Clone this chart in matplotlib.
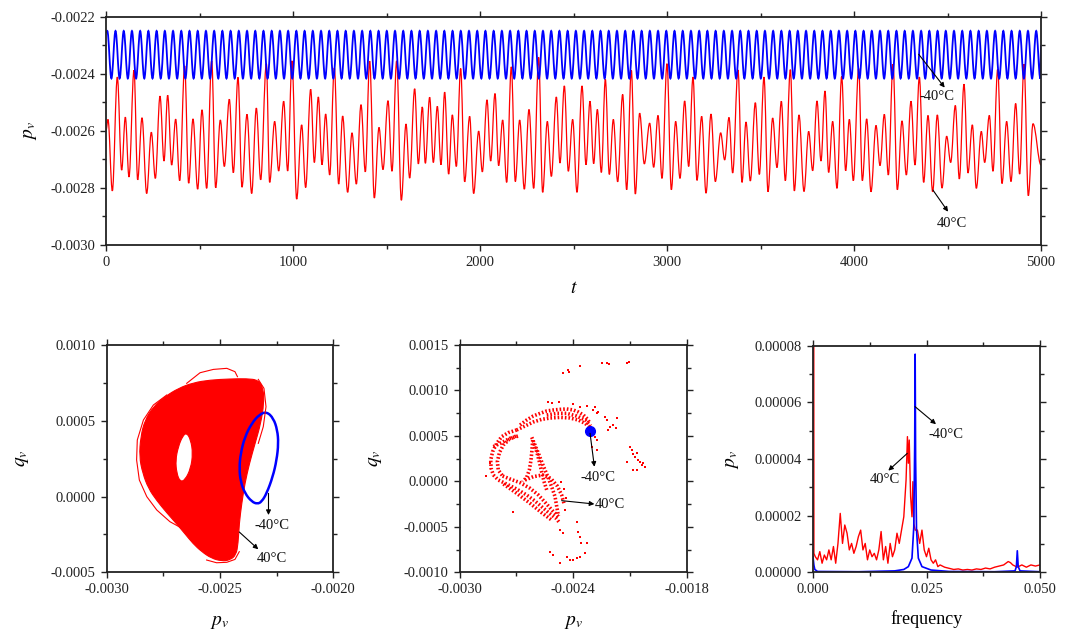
import numpy as np
import matplotlib
matplotlib.use("Agg")
import matplotlib.pyplot as plt
from matplotlib.path import Path
from matplotlib.patches import PathPatch
from matplotlib.ticker import MultipleLocator, FormatStrFormatter

plt.rcParams["font.family"] = ["Liberation Serif", "DejaVu Serif"]
plt.rcParams["mathtext.fontset"] = "stix"

# ---------------- time history of p_v ----------------
# successive turning points (time, value) of the 40°C response
red_ext_t = [0.0, 10.7, 33.9, 60.6, 83.8, 103.4, 123.0, 149.7, 169.4, 192.5, 217.5, 242.4, 263.8,
             288.8, 310.2, 329.8, 351.2, 372.6, 394.0, 420.7, 442.1, 465.2, 490.2, 513.4, 538.3,
             565.1, 586.5, 611.4, 632.8, 659.5, 680.9, 705.9, 727.3, 754.0, 779.0, 803.9, 827.1,
             857.4, 875.2, 902.0, 923.4, 950.1, 971.5, 994.7, 1019.6, 1046.3, 1067.7, 1094.5,
             1114.1, 1135.5, 1155.1, 1174.7, 1196.1, 1221.0, 1244.2, 1265.6, 1292.3, 1315.5,
             1338.7, 1363.6, 1386.8, 1410.0, 1434.9, 1459.9, 1481.3, 1508.0, 1529.4, 1554.4,
             1579.3, 1604.3, 1623.9, 1650.6, 1670.3, 1691.6, 1707.7, 1730.8, 1750.4, 1771.8,
             1791.4, 1811.0, 1832.4, 1852.0, 1873.4, 1896.6, 1918.0, 1944.7, 1966.1, 1992.9,
             2012.5, 2037.4, 2057.1, 2080.2, 2099.8, 2121.2, 2142.6, 2167.5, 2188.9, 2212.1,
             2237.1, 2262.0, 2287.0, 2313.7, 2335.1, 2360.1, 2381.5, 2408.2, 2427.8, 2451.0,
             2472.4, 2495.5, 2518.7, 2545.5, 2566.8, 2588.2, 2607.9, 2627.5, 2648.9, 2670.3,
             2691.6, 2713.0, 2736.2, 2762.9, 2784.3, 2809.3, 2830.7, 2853.8, 2878.8, 2907.3,
             2928.7, 2951.9, 2973.3, 3000.0, 3023.2, 3046.4, 3069.5, 3094.5, 3115.9, 3139.0,
             3160.4, 3185.4, 3208.6, 3235.3, 3258.5, 3287.0, 3308.4, 3331.6, 3351.2, 3379.7,
             3401.1, 3422.5, 3445.6, 3472.4, 3493.8, 3518.7, 3540.1, 3565.1, 3588.2, 3611.4,
             3632.8, 3659.6, 3681.0, 3705.9, 3732.6, 3757.6, 3779.0, 3802.1, 3823.5, 3844.9,
             3864.5, 3885.9, 3909.1, 3934.1, 3955.4, 3975.1, 3996.4, 4025.0, 4044.6, 4067.8,
             4090.9, 4117.7, 4139.1, 4162.2, 4183.6, 4208.6, 4231.8, 4256.7, 4279.9, 4304.8,
             4326.2, 4349.4, 4372.6, 4395.7, 4420.7, 4445.6, 4470.6, 4495.6, 4517.0, 4541.9,
             4563.3, 4588.2, 4609.6, 4632.8, 4654.2, 4680.9, 4698.8, 4723.7, 4743.3, 4768.3,
             4791.4, 4816.4, 4839.6, 4864.5, 4885.9, 4909.1, 4932.2, 4957.2, 5000.0]
red_ext_v = [-25.99e-4, -25.60e-4, -28.11e-4, -24.11e-4, -27.38e-4, -25.52e-4, -27.62e-4, -23.87e-4,
             -27.72e-4, -25.54e-4, -28.20e-4, -26.05e-4, -27.67e-4, -24.78e-4, -27.06e-4, -24.75e-4,
             -27.20e-4, -25.59e-4, -27.75e-4, -23.72e-4, -27.84e-4, -25.58e-4, -28.05e-4, -25.26e-4,
             -28.02e-4, -23.54e-4, -28.00e-4, -25.62e-4, -27.25e-4, -24.89e-4, -27.47e-4, -24.12e-4,
             -27.98e-4, -25.42e-4, -28.20e-4, -25.20e-4, -27.72e-4, -23.64e-4, -27.81e-4, -25.67e-4,
             -27.41e-4, -24.96e-4, -27.41e-4, -23.54e-4, -28.40e-4, -25.79e-4, -27.99e-4, -24.54e-4,
             -27.11e-4, -24.81e-4, -27.19e-4, -25.41e-4, -27.55e-4, -23.79e-4, -27.87e-4, -25.48e-4,
             -28.16e-4, -26.07e-4, -27.87e-4, -25.08e-4, -27.44e-4, -23.55e-4, -28.36e-4, -25.88e-4,
             -27.36e-4, -24.94e-4, -27.42e-4, -23.54e-4, -28.44e-4, -25.76e-4, -27.66e-4, -24.52e-4,
             -27.16e-4, -25.16e-4, -27.14e-4, -24.82e-4, -27.11e-4, -25.14e-4, -27.19e-4, -24.64e-4,
             -27.52e-4, -25.44e-4, -27.25e-4, -23.81e-4, -27.79e-4, -25.49e-4, -28.20e-4, -26.01e-4,
             -27.44e-4, -24.91e-4, -27.06e-4, -24.69e-4, -27.22e-4, -25.62e-4, -27.81e-4, -23.75e-4,
             -27.78e-4, -25.62e-4, -28.05e-4, -25.25e-4, -28.02e-4, -23.42e-4, -28.16e-4, -25.67e-4,
             -27.60e-4, -24.81e-4, -27.13e-4, -24.42e-4, -27.42e-4, -25.60e-4, -28.16e-4, -24.42e-4,
             -27.19e-4, -24.96e-4, -27.15e-4, -25.25e-4, -27.46e-4, -24.19e-4, -27.53e-4, -25.60e-4,
             -27.79e-4, -24.72e-4, -28.07e-4, -23.87e-4, -28.22e-4, -25.38e-4, -27.16e-4, -25.73e-4,
             -27.28e-4, -25.46e-4, -27.67e-4, -23.64e-4, -28.07e-4, -25.67e-4, -27.67e-4, -24.95e-4,
             -27.25e-4, -24.11e-4, -27.74e-4, -25.49e-4, -28.19e-4, -25.41e-4, -27.78e-4, -26.07e-4,
             -27.02e-4, -25.53e-4, -27.48e-4, -23.86e-4, -27.81e-4, -25.69e-4, -27.76e-4, -25.01e-4,
             -27.53e-4, -24.11e-4, -28.14e-4, -25.55e-4, -27.29e-4, -24.96e-4, -27.75e-4, -23.85e-4,
             -28.11e-4, -25.44e-4, -28.13e-4, -26.02e-4, -27.40e-4, -24.95e-4, -27.06e-4, -24.60e-4,
             -27.46e-4, -25.67e-4, -28.02e-4, -24.09e-4, -27.40e-4, -25.60e-4, -27.75e-4, -23.81e-4,
             -27.75e-4, -25.58e-4, -28.14e-4, -25.81e-4, -27.22e-4, -25.42e-4, -27.55e-4, -23.66e-4,
             -28.07e-4, -25.65e-4, -27.55e-4, -24.96e-4, -27.20e-4, -24.11e-4, -27.81e-4, -25.46e-4,
             -28.14e-4, -25.44e-4, -28.01e-4, -26.19e-4, -27.11e-4, -25.11e-4, -27.69e-4, -24.36e-4,
             -27.48e-4, -25.79e-4, -28.02e-4, -26.02e-4, -27.11e-4, -25.46e-4, -27.42e-4, -23.84e-4,
             -27.85e-4, -25.67e-4, -27.78e-4, -25.04e-4, -27.52e-4, -23.66e-4, -28.28e-4, -25.75e-4,
             -27.20e-4]

# -40°C response: a steady periodic oscillation
blue_start_v = -22.55e-4
blue_high = -22.49e-4
blue_low = -24.16e-4
blue_first_peak = 6.9
blue_period = 43.96

# ---------------- phase portrait (p_v, q_v) ----------------
blob_outer_p = [-0.002856, -0.002850, -0.002831, -0.002794, -0.002743, -0.002684, -0.002618,
                -0.002544, -0.002456, -0.002382, -0.002331, -0.002309, -0.002306, -0.002320,
                -0.002345, -0.002370, -0.002390, -0.002404, -0.002415, -0.002420, -0.002429,
                -0.002456, -0.002492, -0.002537, -0.002581, -0.002620, -0.002654, -0.002691,
                -0.002735, -0.002779, -0.002816, -0.002841]
blob_outer_q = [0.000263, 0.000395, 0.000505, 0.000593, 0.000659, 0.000714, 0.000751,
                0.000769, 0.000776, 0.000778, 0.000769, 0.000714, 0.000615, 0.000483,
                0.000351, 0.000219, 0.000087, -0.000045, -0.000177, -0.000309, -0.000386,
                -0.000419, -0.000426, -0.000408, -0.000364, -0.000309, -0.000247, -0.000181,
                -0.000107, -0.000027, 0.000054, 0.000153]
blob_hole_p = [-0.002647, -0.002629, -0.002620, -0.002629, -0.002654, -0.002676, -0.002691,
               -0.002696, -0.002684, -0.002665]
blob_hole_q = [0.000421, 0.000373, 0.000285, 0.000186, 0.000109, 0.000098, 0.000153,
               0.000241, 0.000329, 0.000399]
# outlying orbit strands of the 40°C attractor
strand_top_p = [-0.002647, -0.002588, -0.002529, -0.002470, -0.002434, -0.002423]
strand_top_q = [0.000747, 0.000817, 0.000839, 0.000846, 0.000824, 0.000791]
strand_left_p = [-0.002735, -0.002794, -0.002838, -0.002865, -0.002868, -0.002856, -0.002823,
                 -0.002779, -0.002721, -0.002676, -0.002640]
strand_left_q = [0.000670, 0.000604, 0.000505, 0.000373, 0.000241, 0.000109, -0.000001,
                 -0.000089, -0.000166, -0.000203, -0.000217]
strand_bottom_p = [-0.002559, -0.002515, -0.002470, -0.002434, -0.002415]
strand_bottom_q = [-0.000419, -0.000437, -0.000434, -0.000415, -0.000364]
strand_right_p = [-0.002331, -0.002306, -0.002297, -0.002309, -0.002331]
strand_right_q = [0.000773, 0.000714, 0.000593, 0.000461, 0.000351]
# -40°C limit cycle
cycle_p = [-0.002294, -0.002264, -0.002247, -0.002242, -0.002250, -0.002267, -0.002294,
           -0.002316, -0.002335, -0.002360, -0.002390, -0.002409, -0.002415, -0.002409,
           -0.002390, -0.002360, -0.002326]
cycle_q = [0.000560, 0.000516, 0.000439, 0.000351, 0.000241, 0.000131, 0.000021,
           -0.000034, -0.000049, -0.000034, 0.000021, 0.000098, 0.000186, 0.000285,
           0.000395, 0.000483, 0.000542]

# ---------------- Poincaré section ----------------
# dense filaments of section points (p_v list, q_v list)
poin_bands = [
    ([-0.002681, -0.002646, -0.002611, -0.002575, -0.002540, -0.002505, -0.002470, -0.002434,
      -0.002399, -0.002373, -0.002346, -0.002325, -0.002311],
     [0.000620, 0.000675, 0.000719, 0.000748, 0.000774, 0.000785, 0.000792, 0.000796,
      0.000785, 0.000763, 0.000730, 0.000686, 0.000638]),
    ([-0.002699, -0.002655, -0.002611, -0.002567, -0.002522, -0.002470, -0.002417, -0.002373,
      -0.002337, -0.002311],
     [0.000565, 0.000609, 0.000653, 0.000682, 0.000697, 0.000704, 0.000697, 0.000675,
      0.000638, 0.000591]),
    ([-0.002540, -0.002487, -0.002434, -0.002382, -0.002337, -0.002308],
     [0.000730, 0.000748, 0.000748, 0.000719, 0.000675, 0.000609]),
    ([-0.002699, -0.002743, -0.002778, -0.002804, -0.002826, -0.002836, -0.002834, -0.002822],
     [0.000565, 0.000536, 0.000492, 0.000419, 0.000327, 0.000235, 0.000144, 0.000070]),
    ([-0.002702, -0.002737, -0.002769, -0.002790, -0.002801, -0.002796, -0.002773],
     [0.000499, 0.000463, 0.000400, 0.000316, 0.000217, 0.000125, 0.000059]),
    ([-0.002822, -0.002796, -0.002752, -0.002699, -0.002646, -0.002602, -0.002561, -0.002526,
      -0.002491, -0.002470],
     [0.000070, 0.000015, -0.000029, -0.000084, -0.000150, -0.000216, -0.000289, -0.000351,
      -0.000406, -0.000461]),
    ([-0.002773, -0.002734, -0.002681, -0.002628, -0.002584, -0.002544, -0.002508, -0.002478],
     [0.000059, 0.000026, -0.000014, -0.000076, -0.000150, -0.000241, -0.000326, -0.000388]),
    ([-0.002769, -0.002699, -0.002628, -0.002567, -0.002514],
     [-0.000029, -0.000131, -0.000241, -0.000344, -0.000425]),
    ([-0.002619, -0.002602, -0.002584, -0.002567, -0.002549, -0.002531, -0.002514, -0.002496,
      -0.002487, -0.002478],
     [0.000485, 0.000400, 0.000309, 0.000217, 0.000125, 0.000034, -0.000058, -0.000168,
      -0.000278, -0.000381]),
    ([-0.002611, -0.002593, -0.002579, -0.002567, -0.002554, -0.002540],
     [0.000419, 0.000327, 0.000217, 0.000107, -0.000003, -0.000095]),
    ([-0.002614, -0.002618, -0.002623, -0.002632, -0.002646, -0.002667],
     [0.000455, 0.000345, 0.000235, 0.000125, 0.000045, -0.000003]),
    ([-0.002655, -0.002611, -0.002561, -0.002519, -0.002484, -0.002461, -0.002449],
     [0.000015, 0.000052, 0.000070, 0.000034, -0.000051, -0.000150, -0.000241]),
    ([-0.002822, -0.002778, -0.002734, -0.002690],
     [0.000382, 0.000426, 0.000474, 0.000499]),
]
# isolated section points
poin_p = [-0.002452, -0.002426, -0.002420, -0.002364, -0.002249, -0.002223, -0.002209, -0.002117,
          -0.002103, -0.002293, -0.002276, -0.002285, -0.002299, -0.002276, -0.002223, -0.002205,
          -0.002188, -0.002174, -0.002167, -0.002214, -0.002100, -0.002091, -0.002086, -0.002073,
          -0.002064, -0.002056, -0.002047, -0.002038, -0.002029, -0.002020, -0.002082, -0.002064,
          -0.002117, -0.002470, -0.002452, -0.002382, -0.002373, -0.002364, -0.002360, -0.002329,
          -0.002522, -0.002505, -0.002470, -0.002434, -0.002417, -0.002399, -0.002382, -0.002364,
          -0.002337, -0.002861, -0.002840, -0.002716, -0.002531, -0.002514, -0.002473, -0.002399,
          -0.002364, -0.002329, -0.002267, -0.002232, -0.002285, -0.002273, -0.002464, -0.002449,
          -0.002438, -0.002443]
poin_q = [0.001188, 0.001225, 0.001203, 0.001273, 0.001298, 0.001298, 0.001287, 0.001306,
          0.001309, 0.000785, 0.000748, 0.000814, 0.000382, 0.000345, 0.000675, 0.000602,
          0.000620, 0.000584, 0.000693, 0.000565, 0.000382, 0.000345, 0.000301, 0.000272,
          0.000309, 0.000235, 0.000217, 0.000180, 0.000199, 0.000162, 0.000125, 0.000125,
          0.000217, -0.000535, -0.000571, -0.000443, -0.000553, -0.000608, -0.000681, -0.000681,
          -0.000773, -0.000810, -0.000901, -0.000828, -0.000865, -0.000865, -0.000846, -0.000828,
          -0.000791, 0.000059, 0.000199, -0.000333, 0.000877, 0.000858, 0.000869, 0.000851,
          0.000814, 0.000829, 0.000767, 0.000704, 0.000492, 0.000455, -0.000003, -0.000087,
          -0.000186, -0.000315]
cold_point = (-0.002311, 0.000554)

# ---------------- amplitude spectrum ----------------
spec_red_f = [0.0, 0.0002, 0.0005, 0.0010, 0.0015, 0.0020, 0.0025, 0.0030, 0.0035, 0.0040, 0.0045,
              0.0050, 0.0055, 0.0060, 0.0065, 0.0070, 0.0075, 0.0080, 0.0085, 0.0090, 0.0095,
              0.0100, 0.0105, 0.0110, 0.0115, 0.0120, 0.0125, 0.0130, 0.0135, 0.0140, 0.0145,
              0.0150, 0.0155, 0.0160, 0.0165, 0.0170, 0.0175, 0.0180, 0.0185, 0.0190, 0.0195,
              0.0200, 0.0205, 0.0208, 0.0210, 0.0212, 0.0215, 0.0218, 0.0220, 0.0222, 0.0225,
              0.0230, 0.0235, 0.0240, 0.0245, 0.0250, 0.0255, 0.0260, 0.0265, 0.0270, 0.0275,
              0.0280, 0.0290, 0.0300, 0.0310, 0.0320, 0.0330, 0.0340, 0.0350, 0.0360, 0.0370,
              0.0380, 0.0390, 0.0400, 0.0410, 0.0420, 0.0430, 0.0435, 0.0440, 0.0450, 0.0460,
              0.0470, 0.0480, 0.0490, 0.0500]
spec_red_a = [60e-5, 0.67e-5, 0.55e-5, 0.44e-5, 0.73e-5, 0.32e-5, 0.61e-5, 0.44e-5, 0.79e-5, 0.44e-5,
              0.91e-5, 0.32e-5, 1.02e-5, 2.08e-5, 1.02e-5, 1.67e-5, 1.38e-5, 0.79e-5, 1.02e-5,
              0.67e-5, 0.91e-5, 1.26e-5, 1.49e-5, 0.79e-5, 1.02e-5, 0.44e-5, 0.79e-5, 0.55e-5,
              0.67e-5, 0.44e-5, 0.79e-5, 1.44e-5, 0.44e-5, 0.91e-5, 0.32e-5, 1.02e-5, 0.55e-5,
              0.79e-5, 1.38e-5, 1.02e-5, 1.49e-5, 1.96e-5, 3.26e-5, 4.79e-5, 3.85e-5, 4.67e-5,
              2.67e-5, 1.96e-5, 3.20e-5, 1.73e-5, 1.49e-5, 1.49e-5, 1.02e-5, 1.49e-5, 0.79e-5,
              0.55e-5, 0.85e-5, 0.44e-5, 0.32e-5, 0.44e-5, 0.20e-5, 0.26e-5, 0.18e-5, 0.14e-5,
              0.10e-5, 0.12e-5, 0.08e-5, 0.10e-5, 0.08e-5, 0.12e-5, 0.10e-5, 0.15e-5, 0.12e-5,
              0.18e-5, 0.22e-5, 0.26e-5, 0.38e-5, 0.34e-5, 0.26e-5, 0.18e-5, 0.26e-5, 0.18e-5,
              0.26e-5, 0.22e-5, 0.26e-5]
spec_blue_f = [0.0, 0.0002, 0.0004, 0.0010, 0.0100, 0.0180, 0.0200, 0.0210, 0.0218, 0.0222,
               0.0224, 0.0225, 0.0226, 0.0228, 0.0232, 0.0240, 0.0260, 0.0300, 0.0400, 0.0445,
               0.0448, 0.0450, 0.0452, 0.0456, 0.0500]
spec_blue_a = [0.55e-5, 0.25e-5, 0.10e-5, 0.03e-5, 0.02e-5, 0.05e-5, 0.10e-5, 0.20e-5, 0.50e-5,
               1.60e-5, 4.50e-5, 7.70e-5, 4.00e-5, 1.50e-5, 0.50e-5, 0.20e-5, 0.08e-5, 0.03e-5,
               0.02e-5, 0.05e-5, 0.20e-5, 0.76e-5, 0.20e-5, 0.05e-5, 0.02e-5]

RED = "#ff0000"
BLUE = "#0000ff"
W, H = 1068, 633


def smooth_trace(t, v, k=0.3642):
    """Cubic path with flat tangents at each turning point."""
    verts = [(t[0], v[0])]
    codes = [Path.MOVETO]
    for i in range(len(t) - 1):
        dt = t[i + 1] - t[i]
        verts += [(t[i] + k * dt, v[i]), (t[i + 1] - k * dt, v[i + 1]), (t[i + 1], v[i + 1])]
        codes += [Path.CURVE4] * 3
    return Path(verts, codes)


def closed_curve(p, q):
    """Closed quadratic B-spline through the midpoints of a polygon."""
    pts = np.column_stack([p, q])
    n = len(pts)
    mids = (pts + np.roll(pts, -1, axis=0)) / 2
    verts = [tuple(mids[-1])]
    codes = [Path.MOVETO]
    for i in range(n):
        verts += [tuple(pts[i]), tuple(mids[i])]
        codes += [Path.CURVE3, Path.CURVE3]
    return Path(verts, codes)


def add_axes_px(fig, x0, y0, x1, y1):
    return fig.add_axes([x0 / W, 1 - y1 / H, (x1 - x0) / W, (y1 - y0) / H])


def style(ax, xmaj, xmin, ymaj, ymin, xfmt, yfmt):
    ax.xaxis.set_major_locator(MultipleLocator(xmaj))
    ax.xaxis.set_minor_locator(MultipleLocator(xmin))
    ax.yaxis.set_major_locator(MultipleLocator(ymaj))
    ax.yaxis.set_minor_locator(MultipleLocator(ymin))
    ax.xaxis.set_major_formatter(FormatStrFormatter(xfmt))
    ax.yaxis.set_major_formatter(FormatStrFormatter(yfmt))
    ax.tick_params(which="both", direction="out", top=True, right=True, labelsize=10.5,
                   width=1.0, colors="#222222", labelcolor="#222222")
    ax.tick_params(which="major", length=4.5)
    ax.tick_params(which="minor", length=3)
    for s in ax.spines.values():
        s.set_linewidth(1.3)
        s.set_color("#222222")


def note(ax, text, tail, head, pos, ha="center"):
    ax.annotate("", xy=head, xytext=tail,
                arrowprops=dict(arrowstyle="-|>", color="black", lw=0.8,
                                mutation_scale=7, shrinkA=0, shrinkB=0))
    ax.text(pos[0], pos[1], text, ha=ha, va="center", fontsize=10.5, color="#111111")


fig = plt.figure(figsize=(W / 100, H / 100), dpi=100)

# ---- top: time history ----
ax1 = add_axes_px(fig, 106, 17, 1041, 244.7)
blue_t = np.concatenate([[0.0], np.arange(blue_first_peak, 5000, blue_period / 2), [5000.0]])
blue_v = np.where(np.arange(len(blue_t) - 2) % 2 == 0, blue_high, blue_low)
blue_v = np.concatenate([[blue_start_v], blue_v, [blue_low + 0.7 * (blue_high - blue_low)]])
ax1.add_patch(PathPatch(smooth_trace(red_ext_t, red_ext_v), fill=False, edgecolor=RED, lw=0.9))
ax1.add_patch(PathPatch(smooth_trace(blue_t, blue_v), fill=False, edgecolor=BLUE, lw=1.3))
ax1.set_xlim(0, 5000)
ax1.set_ylim(-0.0030, -0.0022)
style(ax1, 1000, 500, 0.0002, 0.0001, "%d", "%.4f")
ax1.set_xlabel("$t$", fontsize=14, labelpad=8)
ax1.set_ylabel("$p_v$", fontsize=14, labelpad=8)
note(ax1, "-40°C", (4346, -0.002331), (4485, -0.002448), (4444, -0.002478))
note(ax1, "40°C", (4422, -0.002808), (4503, -0.002884), (4524, -0.002927))

# ---- bottom left: phase portrait ----
ax2 = add_axes_px(fig, 106.7, 345, 333.3, 572.3)
outer = closed_curve(blob_outer_p, blob_outer_q)
hole = closed_curve(blob_hole_p[::-1], blob_hole_q[::-1])
ax2.add_patch(PathPatch(Path.make_compound_path(outer, hole), facecolor=RED, edgecolor=RED, lw=0.8))
for sp, sq in [(strand_top_p, strand_top_q), (strand_left_p, strand_left_q),
               (strand_bottom_p, strand_bottom_q), (strand_right_p, strand_right_q)]:
    ax2.plot(sp, sq, color=RED, lw=0.8)
ax2.add_patch(PathPatch(closed_curve(cycle_p, cycle_q), fill=False, edgecolor=BLUE, lw=1.8))
ax2.set_xlim(-0.0030, -0.0020)
ax2.set_ylim(-0.0005, 0.0010)
style(ax2, 0.0005, 0.00025, 0.0005, 0.00025, "%.4f", "%.4f")
ax2.set_xlabel("$p_v$", fontsize=14, labelpad=13)
ax2.set_ylabel("$q_v$", fontsize=14, labelpad=14)
note(ax2, "-40°C", (-0.002286, 0.000021), (-0.002286, -0.000122), (-0.002269, -0.000194))
note(ax2, "40°C", (-0.002415, -0.000234), (-0.002331, -0.000348), (-0.002272, -0.000408))

# ---- bottom middle: Poincaré section ----
ax3 = add_axes_px(fig, 459.7, 345, 686.7, 572.3)
for bp, bq in poin_bands:
    ax3.plot(bp, bq, color=RED, lw=2.6, ls=(0, (0.45, 0.55)))
ax3.scatter(poin_p, poin_q, s=4, c=RED, marker="s", lw=0)
ax3.plot([cold_point[0]], [cold_point[1]], "o", color=BLUE, ms=7)
ax3.set_xlim(-0.0030, -0.0018)
ax3.set_ylim(-0.0010, 0.0015)
style(ax3, 0.0006, 0.0003, 0.0005, 0.00025, "%.4f", "%.4f")
ax3.set_xlabel("$p_v$", fontsize=14, labelpad=13)
ax3.set_ylabel("$q_v$", fontsize=14, labelpad=14)
note(ax3, "-40°C", (-0.002311, 0.000529), (-0.002288, 0.000161), (-0.002270, 0.000045))
note(ax3, "40°C", (-0.002461, -0.000212), (-0.002288, -0.000249), (-0.002288, -0.000249), ha="left")

# ---- bottom right: spectrum ----
ax4 = add_axes_px(fig, 813, 345.7, 1040, 572.3)
ax4.plot(spec_red_f, spec_red_a, color=RED, lw=1.0)
ax4.plot(spec_blue_f, spec_blue_a, color=BLUE, lw=1.2)
ax4.set_xlim(0, 0.05)
ax4.set_ylim(0, 0.00008)
style(ax4, 0.025, 0.0125, 0.00002, 0.00001, "%.3f", "%.5f")
ax4.set_xlabel("frequency", fontsize=13, labelpad=10)
ax4.set_ylabel("$p_v$", fontsize=14, labelpad=10)
note(ax4, "-40°C", (0.02247, 0.0000585), (0.02709, 0.0000523), (0.02930, 0.0000485))
note(ax4, "40°C", (0.02077, 0.0000420), (0.01659, 0.0000359), (0.01586, 0.0000326))

fig.savefig("out.png", dpi=100)
